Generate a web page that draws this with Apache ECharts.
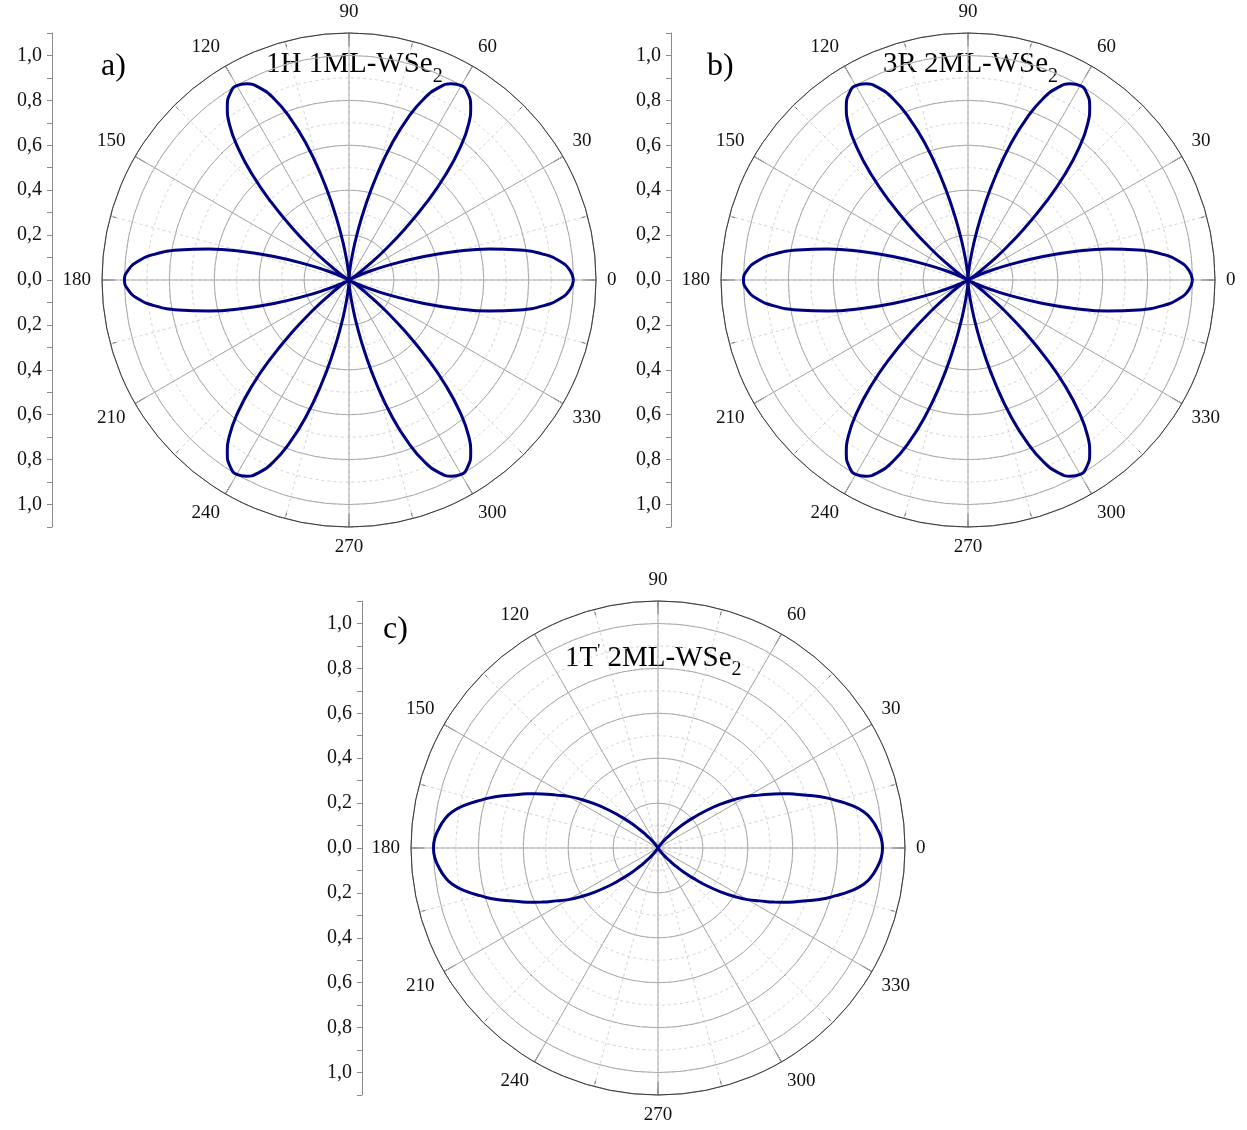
<!DOCTYPE html>
<html>
<head>
<meta charset="utf-8">
<script src="https://cdn.jsdelivr.net/npm/echarts@6/dist/echarts.min.js"></script>
<style>
html,body{margin:0;padding:0;background:#fff;}
#chart{width:1247px;height:1130px;}
</style>
</head>
<body>
<div id="chart"></div>
<script>
// polar angle (degrees) of each sampled point
const angles = [0,2.5,5,7.5,10,12.5,15,17.5,20,22.5,25,27.5,30,32.5,35,37.5,40,42.5,45,47.5,50,52.5,55,57.5,
  60,62.5,65,67.5,70,72.5,75,77.5,80,82.5,85,87.5,90,92.5,95,97.5,100,102.5,105,107.5,110,112.5,115,117.5,
  120,122.5,125,127.5,130,132.5,135,137.5,140,142.5,145,147.5,150,152.5,155,157.5,160,162.5,165,167.5,170,172.5,175,177.5,
  180,182.5,185,187.5,190,192.5,195,197.5,200,202.5,205,207.5,210,212.5,215,217.5,220,222.5,225,227.5,230,232.5,235,237.5,
  240,242.5,245,247.5,250,252.5,255,257.5,260,262.5,265,267.5,270,272.5,275,277.5,280,282.5,285,287.5,290,292.5,295,297.5,
  300,302.5,305,307.5,310,312.5,315,317.5,320,322.5,325,327.5,330,332.5,335,337.5,340,342.5,345,347.5,350,352.5,355,357.5];

// a) 1H 1ML-WSe2 normalized intensity
const rA = [
  1.00,0.985,0.945,0.875,0.77,0.64,0.49,0.34,0.21,0.11,0.05,0.01,0.00,0.01,0.05,0.11,0.21,0.34,0.49,0.64,0.77,0.875,0.945,0.985,
  1.00,0.985,0.945,0.875,0.77,0.64,0.49,0.34,0.21,0.11,0.05,0.01,0.00,0.01,0.05,0.11,0.21,0.34,0.49,0.64,0.77,0.875,0.945,0.985,
  1.00,0.985,0.945,0.875,0.77,0.64,0.49,0.34,0.21,0.11,0.05,0.01,0.00,0.01,0.05,0.11,0.21,0.34,0.49,0.64,0.77,0.875,0.945,0.985,
  1.00,0.985,0.945,0.875,0.77,0.64,0.49,0.34,0.21,0.11,0.05,0.01,0.00,0.01,0.05,0.11,0.21,0.34,0.49,0.64,0.77,0.875,0.945,0.985,
  1.00,0.985,0.945,0.875,0.77,0.64,0.49,0.34,0.21,0.11,0.05,0.01,0.00,0.01,0.05,0.11,0.21,0.34,0.49,0.64,0.77,0.875,0.945,0.985,
  1.00,0.985,0.945,0.875,0.77,0.64,0.49,0.34,0.21,0.11,0.05,0.01,0.00,0.01,0.05,0.11,0.21,0.34,0.49,0.64,0.77,0.875,0.945,0.985];

// b) 3R 2ML-WSe2 normalized intensity
const rB = [
  1.00,0.985,0.945,0.875,0.77,0.64,0.49,0.34,0.21,0.11,0.05,0.01,0.00,0.01,0.05,0.11,0.21,0.34,0.49,0.64,0.77,0.875,0.945,0.985,
  1.00,0.985,0.945,0.875,0.77,0.64,0.49,0.34,0.21,0.11,0.05,0.01,0.00,0.01,0.05,0.11,0.21,0.34,0.49,0.64,0.77,0.875,0.945,0.985,
  1.00,0.985,0.945,0.875,0.77,0.64,0.49,0.34,0.21,0.11,0.05,0.01,0.00,0.01,0.05,0.11,0.21,0.34,0.49,0.64,0.77,0.875,0.945,0.985,
  1.00,0.985,0.945,0.875,0.77,0.64,0.49,0.34,0.21,0.11,0.05,0.01,0.00,0.01,0.05,0.11,0.21,0.34,0.49,0.64,0.77,0.875,0.945,0.985,
  1.00,0.985,0.945,0.875,0.77,0.64,0.49,0.34,0.21,0.11,0.05,0.01,0.00,0.01,0.05,0.11,0.21,0.34,0.49,0.64,0.77,0.875,0.945,0.985,
  1.00,0.985,0.945,0.875,0.77,0.64,0.49,0.34,0.21,0.11,0.05,0.01,0.00,0.01,0.05,0.11,0.21,0.34,0.49,0.64,0.77,0.875,0.945,0.985];

// c) 1T' 2ML-WSe2 normalized intensity
const rC = [
  1.00,0.995,0.98,0.96,0.93,0.88,0.82,0.76,0.69,0.63,0.57,0.51,0.46,0.40,0.34,0.28,0.22,0.17,0.12,0.08,0.05,0.03,0.015,0.005,
  0.00,0.00,0.00,0.00,0.00,0.00,0.00,0.00,0.00,0.00,0.00,0.00,0.00,0.00,0.00,0.00,0.00,0.00,0.00,0.00,0.00,0.00,0.00,0.00,0.00,
  0.005,0.015,0.03,0.05,0.08,0.12,0.17,0.22,0.28,0.34,0.40,0.46,0.51,0.57,0.63,0.69,0.76,0.82,0.88,0.93,0.96,0.98,0.995,
  1.00,0.995,0.98,0.96,0.93,0.88,0.82,0.76,0.69,0.63,0.57,0.51,0.46,0.40,0.34,0.28,0.22,0.17,0.12,0.08,0.05,0.03,0.015,0.005,
  0.00,0.00,0.00,0.00,0.00,0.00,0.00,0.00,0.00,0.00,0.00,0.00,0.00,0.00,0.00,0.00,0.00,0.00,0.00,0.00,0.00,0.00,0.00,0.00,0.00,
  0.005,0.015,0.03,0.05,0.08,0.12,0.17,0.22,0.28,0.34,0.40,0.46,0.51,0.57,0.63,0.69,0.76,0.82,0.88,0.93,0.96,0.98,0.995];

const angleTicks = [0,30,60,90,120,150,180,210,240,270,300,330];

const panelLabels = ['a)', 'b)', 'c)'];
const panelTitles = [['1H 1ML-WSe', '2'], ['3R 2ML-WSe', '2'], ['1T', "'", ' 2ML-WSe', '2']];

const FONT = '"Liberation Serif", "Times New Roman", serif';
const panels = [
  {cx: 349, cy: 280, axisX: 52},
  {cx: 968, cy: 280, axisX: 671},
  {cx: 658, cy: 848, axisX: 362}
];
const R = 247;
const RMAX = 1.1;

const polar = [], radiusAxis = [], angleAxis = [], grid = [], xAxis = [], yAxis = [], series = [];
const radii = [rA, rB, rC];

panels.forEach((p, i) => {
  const base = polar.length;
  polar.push({center: [p.cx, p.cy], radius: R});
  polar.push({center: [p.cx, p.cy], radius: R});
  radiusAxis.push({
    polarIndex: base, type: 'value', min: 0, max: RMAX, interval: 0.1,
    axisLine: {show: false}, axisTick: {show: false}, axisLabel: {show: false},
    splitLine: {show: true, lineStyle: {color: '#d4d4d4', type: [3, 3], width: 1}}
  });
  radiusAxis.push({
    polarIndex: base + 1, type: 'value', min: 0, max: RMAX, interval: 0.2,
    axisLine: {show: false}, axisTick: {show: false}, axisLabel: {show: false},
    splitLine: {show: true, lineStyle: {color: '#a9a9a9', type: 'solid', width: 1}}
  });
  angleAxis.push({
    polarIndex: base, type: 'value', min: 0, max: 360, interval: 15,
    startAngle: 0, clockwise: false,
    axisLine: {show: false},
    axisTick: {show: true, inside: true, length: 6, lineStyle: {color: '#666', width: 1}},
    axisLabel: {show: false},
    splitLine: {show: true, lineStyle: {color: '#d4d4d4', type: [3, 3], width: 1}}
  });
  angleAxis.push({
    polarIndex: base + 1, type: 'value', min: 0, max: 360, interval: 30,
    startAngle: 0, clockwise: false,
    axisLine: {show: true, lineStyle: {color: '#3a3a3a', width: 1}},
    axisTick: {show: true, inside: true, length: 13, lineStyle: {color: '#555', width: 1}},
    axisLabel: {
      show: true, margin: 11, fontSize: 19, color: '#111', fontFamily: FONT,
      formatter: v => (angleTicks.indexOf(v) >= 0 ? String(v) : '')
    },
    splitLine: {show: true, lineStyle: {color: '#a9a9a9', type: 'solid', width: 1}}
  });

  grid.push({left: p.axisX, top: p.cy - R, width: 10, height: 2 * R, containLabel: false});
  xAxis.push({gridIndex: i, type: 'value', show: false, min: 0, max: 1});
  yAxis.push({
    gridIndex: i, type: 'value', min: -RMAX, max: RMAX, interval: 0.1,
    axisLine: {show: true, lineStyle: {color: '#8a8a8a', width: 1}},
    axisTick: {show: true, inside: false, length: 5, lineStyle: {color: '#8a8a8a', width: 1}},
    axisLabel: {
      show: true, margin: 10, fontSize: 20, color: '#111', fontFamily: FONT,
      formatter: v => {
        const k = Math.round(v * 10);
        if (Math.abs(k) > 10 || k % 2 !== 0) return '';
        return (Math.abs(k) / 10).toFixed(1).replace('.', ',');
      }
    },
    splitLine: {show: false}
  });

  const r = radii[i];
  const data = angles.map((a, j) => [r[j], a]);
  data.push([r[0], 360]);
  series.push({
    type: 'line', coordinateSystem: 'polar', polarIndex: base + 1,
    data: data, smooth: 0.5, showSymbol: false, symbol: 'none',
    lineStyle: {color: '#000080', width: 3}, z: 5, animation: false
  });
});

const graphic = [
  {type: 'text', left: 101, top: 51, style: {text: panelLabels[0], font: '32px ' + FONT, fill: '#000'}},
  {type: 'text', left: 707, top: 51, style: {text: panelLabels[1], font: '32px ' + FONT, fill: '#000'}},
  {type: 'text', left: 383, top: 614, style: {text: panelLabels[2], font: '32px ' + FONT, fill: '#000'}}
];
const rich = {
  m: {fontSize: 29, fontFamily: FONT, lineHeight: 44, verticalAlign: 'middle', color: '#000'},
  s: {fontSize: 20, fontFamily: FONT, lineHeight: 20, verticalAlign: 'bottom', color: '#000'},
  p: {fontSize: 17, fontFamily: FONT, lineHeight: 17, verticalAlign: 'top', color: '#000', padding: [6, 0, 0, 0]}
};
graphic.push({type: 'text', left: 266, top: 50,
  style: {text: '{m|' + panelTitles[0][0] + '}{s|' + panelTitles[0][1] + '}', rich: rich}});
graphic.push({type: 'text', left: 883, top: 50,
  style: {text: '{m|' + panelTitles[1][0] + '}{s|' + panelTitles[1][1] + '}', rich: rich}});
graphic.push({type: 'text', left: 565, top: 636,
  style: {text: '{m|' + panelTitles[2][0] + '}{p|' + panelTitles[2][1] + '}{m|' + panelTitles[2][2] + '}{s|' + panelTitles[2][3] + '}', rich: rich}});

const chart = echarts.init(document.getElementById('chart'), null, {renderer: 'canvas'});
chart.setOption({
  animation: false,
  backgroundColor: '#ffffff',
  polar, radiusAxis, angleAxis, grid, xAxis, yAxis, series, graphic
});
</script>
</body>
</html>
